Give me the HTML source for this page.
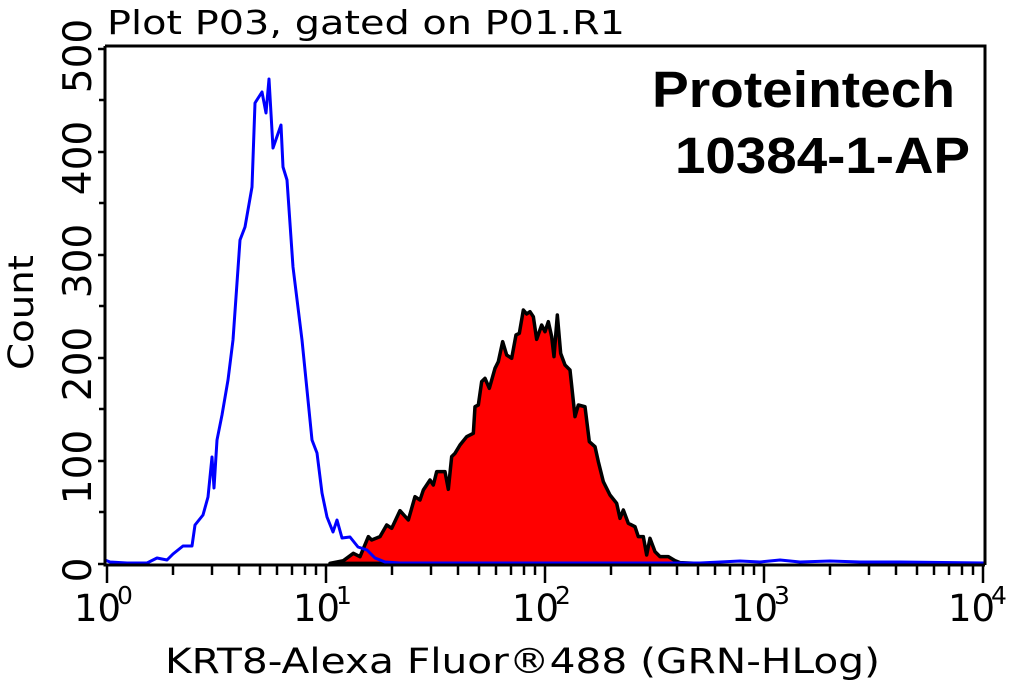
<!DOCTYPE html>
<html><head><meta charset="utf-8"><style>
html,body{margin:0;padding:0;background:#fff;}
svg{display:block;}
text{font-family:"DejaVu Sans","Liberation Sans",sans-serif;fill:#000;}
</style></head><body>
<svg width="1015" height="683" viewBox="0 0 1015 683" xmlns="http://www.w3.org/2000/svg">
<!-- red histogram -->
<g transform="translate(330,290) scale(0.33333)">
<polygon fill="#ff0000" stroke="#000" stroke-width="3.5" vector-effect="non-scaling-stroke" stroke-linejoin="round" points="0,820 40,812 70,790 90,800 115,740 125,750 150,740 170,705 185,715 210,662 235,690 255,620 270,630 280,600 300,570 310,585 320,545 345,545 355,598 365,500 375,490 390,465 410,440 430,430 435,350 445,345 455,275 465,265 478,295 495,235 505,215 518,155 530,195 545,205 558,135 568,130 580,60 590,72 600,65 610,80 620,148 635,105 645,125 655,95 665,140 672,200 682,75 692,190 705,225 720,240 735,380 745,345 765,350 778,455 795,470 805,515 820,575 840,615 860,640 870,685 880,660 895,700 915,710 925,740 940,740 950,795 960,745 975,785 990,800 1015,800 1035,812 1050,818 1140,822"/>
</g>
<!-- blue histogram -->
<polyline fill="none" stroke="#0000ff" stroke-width="3" stroke-linejoin="round" points="105,560 110,562 127,563 147,563 157,558 167,560 173,554 183,546 192,546 195,525 203,515 208,497 212,457 214,488 217,440 222,415 228,380 233,340 240,240 245,227 252,187 255,103 262,92 266,113 269,79 273,148 281,125 283,167 287,180 293,267 302,340 312,440 317,453 322,493 327,517 333,532 337,520 342,538 350,537 358,547 367,550 375,558 385,562 400,563 600,563 700,563 740,561 760,562 780,560 800,562 830,561 860,562 900,562 985,563"/>
<!-- frame -->
<path d="M105,46 H985 V565 M105,46 V565 H985" fill="none" stroke="#000" stroke-width="3"/>
<!-- y ticks -->
<g stroke="#000" stroke-width="2.5">
<line x1="98" y1="564" x2="105" y2="564"/><line x1="99" y1="512" x2="105" y2="512"/>
<line x1="98" y1="461" x2="105" y2="461"/><line x1="99" y1="409" x2="105" y2="409"/>
<line x1="98" y1="358" x2="105" y2="358"/><line x1="99" y1="306" x2="105" y2="306"/>
<line x1="98" y1="255" x2="105" y2="255"/><line x1="99" y1="203" x2="105" y2="203"/>
<line x1="98" y1="152" x2="105" y2="152"/><line x1="99" y1="100" x2="105" y2="100"/>
<line x1="98" y1="49" x2="105" y2="49"/>
</g>
<!-- x ticks -->
<g stroke="#000" stroke-width="2.5">
<line x1="107" y1="565" x2="107" y2="583"/><line x1="326" y1="565" x2="326" y2="583"/>
<line x1="545" y1="565" x2="545" y2="583"/><line x1="764" y1="565" x2="764" y2="583"/>
<line x1="983" y1="565" x2="983" y2="583"/>
<line x1="173" y1="565" x2="173" y2="575"/><line x1="212" y1="565" x2="212" y2="575"/><line x1="239" y1="565" x2="239" y2="575"/><line x1="260" y1="565" x2="260" y2="575"/><line x1="277" y1="565" x2="277" y2="575"/><line x1="292" y1="565" x2="292" y2="575"/><line x1="305" y1="565" x2="305" y2="575"/><line x1="316" y1="565" x2="316" y2="575"/>
<line x1="392" y1="565" x2="392" y2="575"/><line x1="431" y1="565" x2="431" y2="575"/><line x1="458" y1="565" x2="458" y2="575"/><line x1="479" y1="565" x2="479" y2="575"/><line x1="496" y1="565" x2="496" y2="575"/><line x1="511" y1="565" x2="511" y2="575"/><line x1="524" y1="565" x2="524" y2="575"/><line x1="535" y1="565" x2="535" y2="575"/>
<line x1="611" y1="565" x2="611" y2="575"/><line x1="650" y1="565" x2="650" y2="575"/><line x1="677" y1="565" x2="677" y2="575"/><line x1="698" y1="565" x2="698" y2="575"/><line x1="715" y1="565" x2="715" y2="575"/><line x1="730" y1="565" x2="730" y2="575"/><line x1="743" y1="565" x2="743" y2="575"/><line x1="754" y1="565" x2="754" y2="575"/>
<line x1="830" y1="565" x2="830" y2="575"/><line x1="869" y1="565" x2="869" y2="575"/><line x1="896" y1="565" x2="896" y2="575"/><line x1="917" y1="565" x2="917" y2="575"/><line x1="934" y1="565" x2="934" y2="575"/><line x1="949" y1="565" x2="949" y2="575"/><line x1="962" y1="565" x2="962" y2="575"/><line x1="973" y1="565" x2="973" y2="575"/>
</g>
<!-- y labels -->
<g font-size="39" text-anchor="middle">
<text transform="translate(91,570) rotate(-90)">0</text>
<text transform="translate(91,467) rotate(-90)">100</text>
<text transform="translate(91,364) rotate(-90)">200</text>
<text transform="translate(91,261) rotate(-90)">300</text>
<text transform="translate(91,158) rotate(-90)">400</text>
<text transform="translate(91,56) rotate(-90)">500</text>
</g>
<!-- x labels -->
<g font-size="37">
<text x="74" y="621">10</text><text x="117" y="604" font-size="25">0</text>
<text x="293" y="621">10</text><text x="336" y="604" font-size="25">1</text>
<text x="512" y="621">10</text><text x="555" y="604" font-size="25">2</text>
<text x="731" y="621">10</text><text x="774" y="604" font-size="25">3</text>
<text x="948" y="621">10</text><text x="991" y="604" font-size="25">4</text>
</g>
<text x="107" y="34" font-size="33" textLength="518" lengthAdjust="spacingAndGlyphs">Plot P03, gated on P01.R1</text>
<text x="165" y="673" font-size="35" textLength="715" lengthAdjust="spacingAndGlyphs">KRT8-Alexa Fluor®488 (GRN-HLog)</text>
<text transform="translate(33,370) rotate(-90)" font-size="35" textLength="115" lengthAdjust="spacingAndGlyphs">Count</text>
<text x="652" y="107" font-size="51" font-weight="bold" style="font-family:'Liberation Sans',sans-serif" textLength="303" lengthAdjust="spacingAndGlyphs">Proteintech</text>
<text x="675" y="173" font-size="51" font-weight="bold" style="font-family:'Liberation Sans',sans-serif" textLength="295" lengthAdjust="spacingAndGlyphs">10384-1-AP</text>
</svg>
</body></html>
